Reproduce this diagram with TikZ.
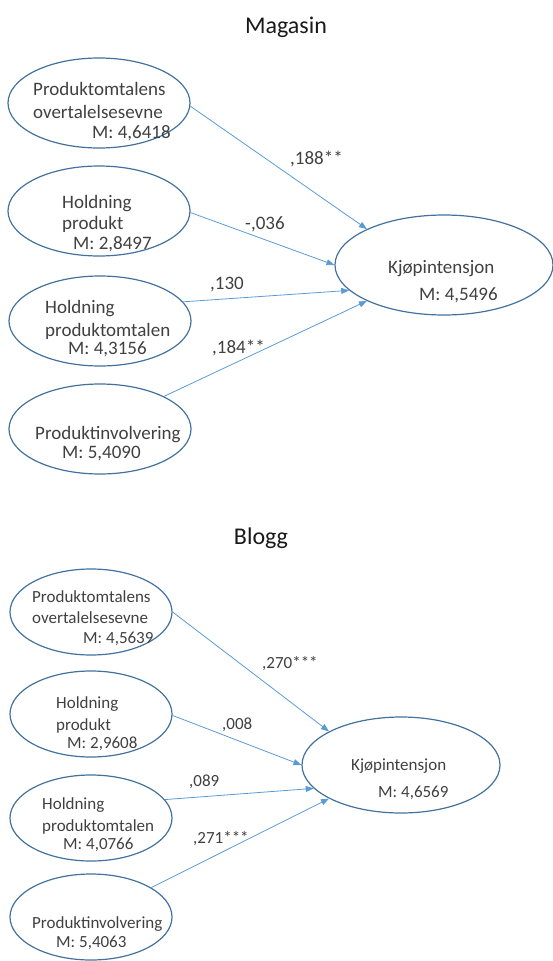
\documentclass[tikz,border=0pt]{standalone}
\usepackage{fontspec}
\setmainfont{Carlito}
\usepackage{tikz}
\usetikzlibrary{arrows.meta,shapes.geometric}

\definecolor{ellblue}{RGB}{65,113,156}
\definecolor{arrblue}{RGB}{91,155,213}
\definecolor{txtgray}{RGB}{64,64,64}

\begin{document}
\begin{tikzpicture}[
  x=1pt, y=-1pt,
  ell/.style={ellipse, draw=ellblue, line width=1.2pt, inner sep=0pt},
  bigell/.style={ell, minimum width=182pt, minimum height=90pt},
  smallell/.style={ell, minimum width=162pt, minimum height=86pt},
  txt/.style={anchor=base west, inner sep=0pt, text=txtgray},
  big/.style={txt, font=\fontsize{19}{22}\selectfont},
  small/.style={txt, font=\fontsize{17}{20}\selectfont},
  ttl/.style={inner sep=0pt, text=black!90, font=\fontsize{24}{28}\selectfont},
  arr/.style={-{Triangle[length=8pt,width=6pt]}, draw=arrblue, line width=0.8pt}
]
\useasboundingbox (0,0) rectangle (553,961);

% Magasin
\node[ttl] (tmag) at (286,27) {Magasin};

\node[bigell] (m1) at (99,103) {};
\node[bigell] (m2) at (99,211) {};
\node[bigell] (m3) at (100,321) {};
\node[bigell] (m4) at (100,429) {};
\node[ell, minimum width=218pt, minimum height=100pt] (mk) at (444,265) {};

\node[big] (m1a) at (33,95) {Produktomtalens};
\node[big] (m1b) at (33,118) {overtalelsesevne};
\node[big] (m1c) at (92,138) {M: 4,6418};
\node[big] (m2a) at (62,208) {Holdning};
\node[big] (m2b) at (62,229) {produkt};
\node[big] (m2c) at (73,249) {M: 2,8497};
\node[big] (m3a) at (45,313) {Holdning};
\node[big] (m3b) at (45,336) {produktomtalen};
\node[big] (m3c) at (68,354) {M: 4,3156};
\node[big] (m4a) at (35,439) {Produktinvolvering};
\node[big] (m4b) at (62,458) {M: 5,4090};
\node[big] (mka) at (388,273) {Kjøpintensjon};
\node[big] (mkb) at (419,300) {M: 4,5496};

\draw[arr] (m1.-2) -- (mk.155);
\draw[arr] (m2.-1) -- (mk.180);
\draw[arr] (m3.13) -- (mk.195);
\draw[arr] (m4.27) -- (mk.205);

\node[big] (mw1) at (290,164) {,188**};
\node[big] (mw2) at (245,229) {-,036};
\node[big] (mw3) at (210,289) {,130};
\node[big] (mw4) at (212,353) {,184**};

% Blogg
\node[ttl] (tblo) at (261,538) {Blogg};

\node[smallell] (b1) at (91,612) {};
\node[smallell] (b2) at (91,714) {};
\node[smallell] (b3) at (91,818) {};
\node[smallell] (b4) at (91,917) {};
\node[ell, minimum width=198pt, minimum height=96pt] (bk) at (401,765) {};

\node[small] (b1a) at (32,602.5) {Produktomtalens};
\node[small] (b1b) at (32,623.5) {overtalelsesevne};
\node[small] (b1c) at (83,643.5) {M: 4,5639};
\node[small] (b2a) at (56,708.5) {Holdning};
\node[small] (b2b) at (56,730.5) {produkt};
\node[small] (b2c) at (67,748.5) {M: 2,9608};
\node[small] (b3a) at (42,809.5) {Holdning};
\node[small] (b3b) at (42,831.5) {produktomtalen};
\node[small] (b3c) at (63,849.5) {M: 4,0766};
\node[small] (b4a) at (32,928.5) {Produktinvolvering};
\node[small] (b4b) at (56,947.5) {M: 5,4063};
\node[small] (bka) at (351,770.5) {Kjøpintensjon};
\node[small] (bkb) at (378,797.5) {M: 4,6569};

\draw[arr] (b1.0) -- (bk.155);
\draw[arr] (b2.-1) -- (bk.180);
\draw[arr] (b3.14) -- (bk.195);
\draw[arr] (b4.26) -- (bk.205);

\node[small] (bw1) at (262,668.5) {,270***};
\node[small] (bw2) at (222,729.5) {,008};
\node[small] (bw3) at (189,786.5) {,089};
\node[small] (bw4) at (193,843.5) {,271***};
\end{tikzpicture}
\end{document}
